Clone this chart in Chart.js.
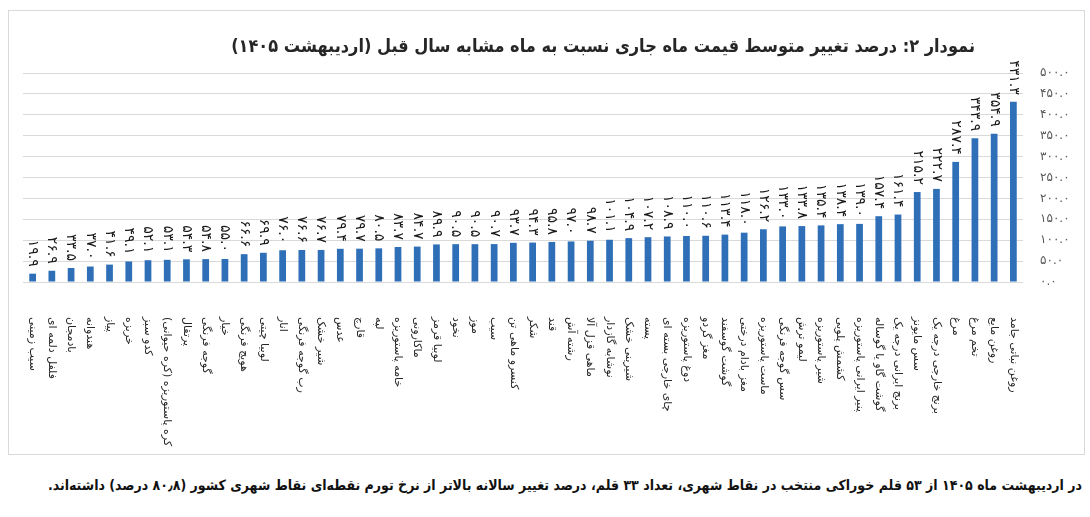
<!DOCTYPE html>
<html lang="fa">
<head>
<meta charset="utf-8">
<script src="https://cdn.jsdelivr.net/npm/chart.js@4.4.1/dist/chart.umd.min.js"></script>
<style>
  html, body { margin: 0; padding: 0; background: #fff; }
  body { width: 1090px; height: 517px; position: relative; overflow: hidden; font-family: "DejaVu Sans", sans-serif; }
  .frame { position: absolute; left: 8px; top: 10px; width: 1077px; height: 445px; border: 1px solid #d9d9d9; box-sizing: border-box; }
  .chart-wrap { position: absolute; left: 0; top: 0; width: 1090px; height: 460px; }
  .title { position: absolute; right: 115px; top: 35px; direction: rtl; font-family: "DejaVu Sans Condensed", "DejaVu Sans", sans-serif; font-weight: bold; font-size: 18px; color: #262626; white-space: nowrap; }
  .note { position: absolute; right: 8px; top: 477px; direction: rtl; font-family: "DejaVu Sans Condensed", "DejaVu Sans", sans-serif; font-weight: bold; font-size: 14px; color: #111; white-space: nowrap; }
</style>
</head>
<body>
<div class="frame"></div>
<div class="chart-wrap"><canvas id="price-chart"></canvas></div>
<div class="title">نمودار ۲: درصد تغییر متوسط قیمت ماه جاری نسبت به ماه مشابه سال قبل (اردیبهشت ۱۴۰۵)</div>
<div class="note">در اردیبهشت ماه ۱۴۰۵ از ۵۳ قلم خوراکی منتخب در نقاط شهری، تعداد ۳۳ قلم، درصد تغییر سالانه بالاتر از نرخ تورم نقطه‌ای نقاط شهری کشور (۸۰٫۸ درصد) داشته‌اند.</div>
<script>
// اقلام خوراکی
const items = [
    'سیب زمینی', 'فلفل دلمه ای', 'بادمجان', 'هندوانه', 'پیاز', 'خربزه', 'کدو سبز',
    'کره پاستوریزه (کره حیوانی)', 'پرتقال', 'گوجه فرنگی', 'خیار', 'هویج فرنگی', 'لوبیا چیتی',
    'انار', 'رب گوجه فرنگی', 'شیر خشک', 'عدس', 'قارچ', 'لپه', 'خامه پاستوریزه', 'ماکارونی',
    'لوبیا قرمز', 'نخود', 'موز', 'سیب', 'کنسرو ماهی تن', 'شکر', 'قند', 'رشته آش',
    'ماهی قزل آلا', 'نوشابه گازدار', 'شیرینی خشک', 'پسته', 'چای خارجی بسته ای',
    'دوغ پاستوریزه', 'مغز گردو', 'گوشت گوسفند', 'مغز بادام درختی', 'ماست پاستوریزه',
    'سس گوجه فرنگی', 'لیمو ترش', 'شیر پاستوریزه', 'کشمش پلویی', 'پنیر ایرانی پاستوریزه',
    'گوشت گاو یا گوساله', 'برنج ایرانی درجه یک', 'سس مایونز', 'برنج خارجی درجه یک',
    'مرغ', 'تخم مرغ', 'روغن مایع', 'روغن نباتی جامد'
];

// درصد تغییر نسبت به ماه مشابه سال قبل
const changes = [
    19.9, 26.9, 33.5, 37.0, 41.6, 49.1, 52.1, 53.1, 54.3, 54.8, 55.0, 66.6, 69.9,
    76.0, 76.6, 76.7, 79.4, 79.7, 80.5, 83.7, 84.7, 89.9, 90.5, 90.5, 90.7, 93.7,
    94.3, 95.8, 97.0, 98.7, 101.1, 104.9, 107.2, 108.9, 110.0, 110.6, 113.4, 118.0,
    126.2, 133.0, 133.8, 135.4, 138.4, 139.0, 157.4, 161.4, 215.2, 222.7, 287.4,
    343.9, 354.9, 431.3
];

const yTicks = [0, 50, 100, 150, 200, 250, 300, 350, 400, 450, 500];

const faDigits = '۰۱۲۳۴۵۶۷۸۹';
function toFa(num) {
    return num.toFixed(1).replace(/[0-9]/g, d => faDigits[d]);
}

// برچسب مقدار بالای هر ستون (چرخش ۹۰ درجه)
const valueLabels = {
    id: 'valueLabels',
    afterDatasetsDraw(chart) {
        const ctx = chart.ctx;
        const meta = chart.getDatasetMeta(0);
        ctx.save();
        ctx.font = '14px "DejaVu Sans", sans-serif';
        ctx.fillStyle = '#1a1a1a';
        ctx.textAlign = 'right';
        ctx.textBaseline = 'middle';
        meta.data.forEach((bar, i) => {
            ctx.save();
            ctx.translate(bar.x, bar.y - 7);
            ctx.rotate(Math.PI / 2);
            ctx.fillText(toFa(changes[i]), 0, 0);
            ctx.restore();
        });
        ctx.restore();
    }
};

// نام اقلام زیر محور
const categoryLabels = {
    id: 'categoryLabels',
    afterDraw(chart) {
        const ctx = chart.ctx;
        const xScale = chart.scales.x;
        ctx.save();
        ctx.font = '11px "DejaVu Sans", sans-serif';
        ctx.fillStyle = '#262626';
        ctx.direction = 'rtl';
        ctx.textAlign = 'left';
        ctx.textBaseline = 'middle';
        items.forEach((name, i) => {
            ctx.save();
            ctx.translate(xScale.getPixelForValue(i), chart.chartArea.bottom + 35);
            ctx.rotate(Math.PI / 2);
            ctx.fillText(name, 0, 0);
            ctx.restore();
        });
        ctx.restore();
    }
};

new Chart(document.getElementById('price-chart'), {
    type: 'bar',
    data: {
        labels: items,
        datasets: [{
            data: changes,
            backgroundColor: '#2e6fb7',
            borderWidth: 0,
            barPercentage: 0.35,
            categoryPercentage: 1.0
        }]
    },
    options: {
        responsive: true,
        maintainAspectRatio: false,
        animation: false,
        layout: {
            padding: { left: 23, right: 17, top: 73, bottom: 170 }
        },
        plugins: {
            legend: { display: false },
            tooltip: { enabled: false }
        },
        scales: {
            x: {
                grid: { display: false },
                border: { display: false },
                ticks: { display: false }
            },
            y: {
                position: 'right',
                min: 0,
                max: 500,
                afterBuildTicks: scale => {
                    scale.ticks = yTicks.map(v => ({ value: v }));
                },
                afterFit: scale => {
                    scale.width = 50;
                },
                grid: { color: '#d9d9d9', drawTicks: false },
                border: { display: false },
                ticks: {
                    padding: 17,
                    color: '#595959',
                    font: { family: '"DejaVu Sans", sans-serif', size: 12 },
                    callback: value => toFa(value)
                }
            }
        }
    },
    plugins: [valueLabels, categoryLabels]
});
</script>
</body>
</html>
